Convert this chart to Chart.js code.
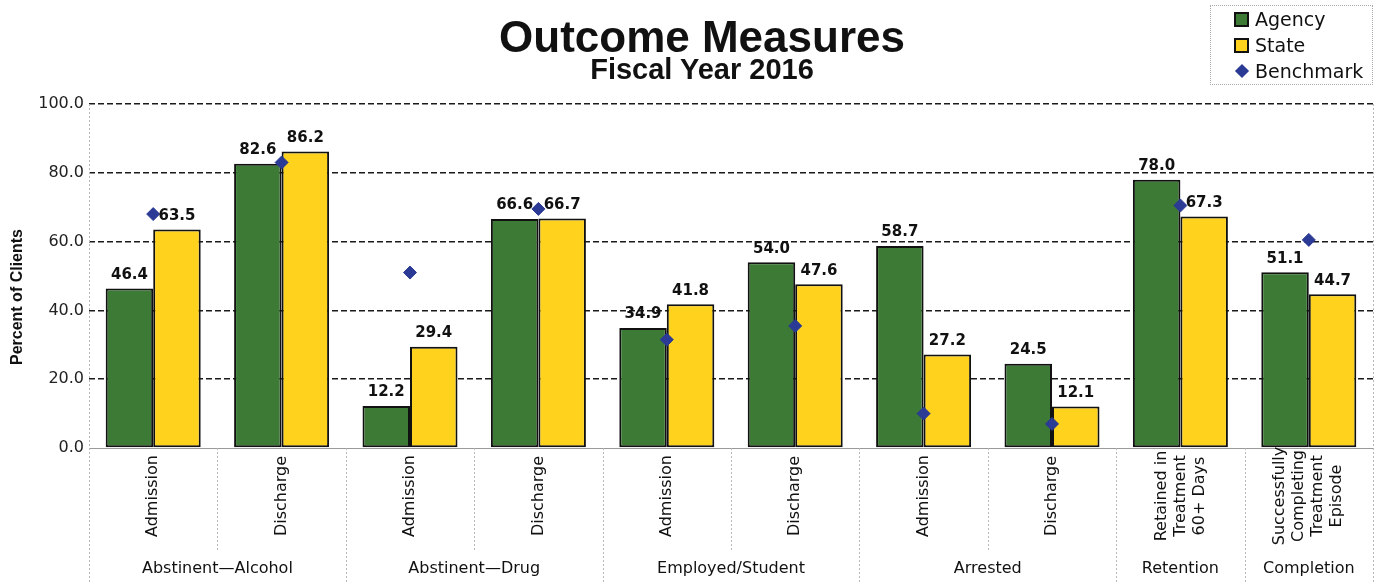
<!DOCTYPE html>
<html>
<head>
<meta charset="utf-8">
<script src="https://cdn.jsdelivr.net/npm/chart.js@4.4.1/dist/chart.umd.min.js"></script>
<style>
  html, body { margin: 0; padding: 0; background: #fff; }
  #wrap { position: relative; width: 1385px; height: 582px; }
  #title { position: absolute; left: 0; width: 1404px; top: 15px; text-align: center;
    font: bold 44px 'Liberation Sans', Arial, sans-serif; line-height: 1; color: #111; }
  #subtitle { position: absolute; left: 0; width: 1404px; top: 55px; text-align: center;
    font: bold 29px 'Liberation Sans', Arial, sans-serif; line-height: 1; color: #111; }
  #legend { position: absolute; left: 1210px; top: 5px; width: 163px; height: 80px;
    border: 1px dotted #aaa; box-sizing: border-box; padding-top: 0px; }
  .row { position: relative; height: 26px; font: 19px 'DejaVu Sans', sans-serif; color: #111; }
  .row span.txt { position: absolute; left: 44px; top: 50%; transform: translateY(-50%); }
  .sq { position: absolute; left: 23px; top: 6px; width: 11px; height: 11px; border: 2px solid #111; }
  .dia { position: absolute; left: 26px; top: 8px; width: 10px; height: 10px; transform: rotate(45deg); }
</style>
</head>
<body>
<div id="wrap">
  <canvas id="mainChart" width="1385" height="582"></canvas>
  <div id="title">Outcome Measures</div>
  <div id="subtitle">Fiscal Year 2016</div>
  <div id="legend"></div>
</div>
<script>
// sub-category labels (multi-line), one per bar pair
var categories = [
  ['Admission'], ['Discharge'],
  ['Admission'], ['Discharge'],
  ['Admission'], ['Discharge'],
  ['Admission'], ['Discharge'],
  ['Retained in', 'Treatment', '60+ Days'],
  ['Successfully', 'Completing', 'Treatment', 'Episode']
];
var groups = ['Abstinent\u2014Alcohol', 'Abstinent\u2014Drug', 'Employed/Student', 'Arrested', 'Retention', 'Completion'];
var groupSpans = [2, 2, 2, 2, 1, 1];

var agency    = [46.4, 82.6, 12.2, 66.6, 34.9, 54.0, 58.7, 24.5, 78.0, 51.1];
var state     = [63.5, 86.2, 29.4, 66.7, 41.8, 47.6, 27.2, 12.1, 67.3, 44.7];
var benchmark = [68.0, 83.0, 51.0, 69.5, 31.5, 35.5, 10.0, 7.0, 70.5, 60.5];

var seriesNames = ['Agency', 'State', 'Benchmark'];
var yTitle = 'Percent of Clients';
var colors = { agency: '#3d7a35', state: '#ffd21e', bench: '#2b3a94' };

var FONT = "'DejaVu Sans', sans-serif";

// legend (html)
var lg = document.getElementById('legend');
seriesNames.forEach(function(n, i) {
  var row = document.createElement('div');
  row.className = 'row';
  var m = document.createElement('div');
  if (i < 2) {
    m.className = 'sq';
    m.style.background = i === 0 ? colors.agency : colors.state;
  } else {
    m.className = 'dia';
    m.style.background = colors.bench;
  }
  row.appendChild(m);
  var s = document.createElement('span');
  s.className = 'txt';
  s.textContent = n;
  row.appendChild(s);
  lg.appendChild(row);
});

// x labels, separators, value labels, y title
var decor = {
  id: 'decor',
  afterDraw: function(chart) {
    var ctx = chart.ctx;
    var xs = chart.scales.x;
    var area = chart.chartArea;
    var n = categories.length;
    var slot = (xs.right - xs.left) / n;
    var H = chart.height;

    ctx.save();
    // dotted separators
    ctx.strokeStyle = '#b8b8b8';
    ctx.lineWidth = 1;
    ctx.setLineDash([2, 2]);
    var bounds = [0];
    var acc = 0;
    groupSpans.forEach(function(s) { acc += s; bounds.push(acc); });
    for (var k = 0; k <= n; k++) {
      var x = Math.round(xs.left + k * slot) + 0.5;
      var isGroup = bounds.indexOf(k) >= 0;
      var y0 = (k === 0 || k === n) ? area.top : area.bottom;
      var y1 = isGroup ? H : area.bottom + 102;
      ctx.beginPath();
      ctx.moveTo(x, y0);
      ctx.lineTo(x, y1);
      ctx.stroke();
    }
    ctx.setLineDash([]);

    // rotated sub-category labels
    ctx.fillStyle = '#111';
    ctx.font = '16px ' + FONT;
    ctx.textAlign = 'center';
    ctx.textBaseline = 'middle';
    var lh = 19;
    categories.forEach(function(lines, i) {
      var cx = xs.getPixelForValue(i);
      lines.forEach(function(line, j) {
        var lx = cx - (lines.length - 1) * lh / 2 + j * lh;
        ctx.save();
        ctx.translate(lx, area.bottom + 48);
        ctx.rotate(-Math.PI / 2);
        ctx.fillText(line, 0, 0);
        ctx.restore();
      });
    });

    // group labels
    groups.forEach(function(g, i) {
      var gx = xs.left + (bounds[i] + bounds[i + 1]) / 2 * slot;
      ctx.fillText(g, gx, area.bottom + 121);
    });

    // y axis title
    ctx.save();
    ctx.font = "bold 16px 'Liberation Sans', Arial, sans-serif";
    ctx.translate(18, 297);
    ctx.rotate(-Math.PI / 2);
    ctx.fillText(yTitle, 0, 0);
    ctx.restore();

    // value labels above bars
    ctx.font = 'bold 15px ' + FONT;
    ctx.textBaseline = 'bottom';
    [0, 1].forEach(function(di) {
      var meta = chart.getDatasetMeta(di);
      meta.data.forEach(function(bar, i) {
        var v = chart.data.datasets[di].data[i];
        ctx.fillText(v.toFixed(1), bar.x, bar.y - 6);
      });
    });
    ctx.restore();
  }
};

new Chart(document.getElementById('mainChart').getContext('2d'), {
  type: 'bar',
  data: {
    labels: categories,
    datasets: [
      {
        label: seriesNames[0],
        data: agency,
        backgroundColor: colors.agency,
        borderColor: '#111',
        borderWidth: 2,
        borderSkipped: false,
        categoryPercentage: 0.74,
        barPercentage: 1.0,
        order: 2
      },
      {
        label: seriesNames[1],
        data: state,
        backgroundColor: colors.state,
        borderColor: '#111',
        borderWidth: 2,
        borderSkipped: false,
        categoryPercentage: 0.74,
        barPercentage: 1.0,
        order: 2
      },
      {
        type: 'line',
        label: seriesNames[2],
        data: benchmark,
        showLine: false,
        pointStyle: 'rectRot',
        pointRadius: 6.5,
        backgroundColor: colors.bench,
        borderColor: colors.bench,
        borderWidth: 1,
        order: 0
      }
    ]
  },
  options: {
    responsive: false,
    animation: false,
    layout: { padding: { top: 104, right: 12, left: 0, bottom: 0 } },
    plugins: {
      legend: { display: false },
      tooltip: { enabled: false }
    },
    scales: {
      x: {
        ticks: { display: false },
        grid: { display: false },
        border: { display: true, color: '#999', width: 1 },
        afterFit: function(s) { s.height = 134; }
      },
      y: {
        min: 0,
        max: 100,
        ticks: {
          stepSize: 20,
          color: '#222',
          padding: 5,
          font: { family: FONT, size: 16 },
          callback: function(v) { return v.toFixed(1); }
        },
        grid: {
          drawTicks: false,
          lineWidth: 1.5,
          color: function(c) { return c.tick && c.tick.value === 0 ? 'rgba(0,0,0,0)' : '#1a1a1a'; }
        },
        border: { display: false, dash: [6, 3] },
        afterFit: function(s) { s.width = 89; }
      }
    }
  },
  plugins: [decor]
});
</script>
</body>
</html>
